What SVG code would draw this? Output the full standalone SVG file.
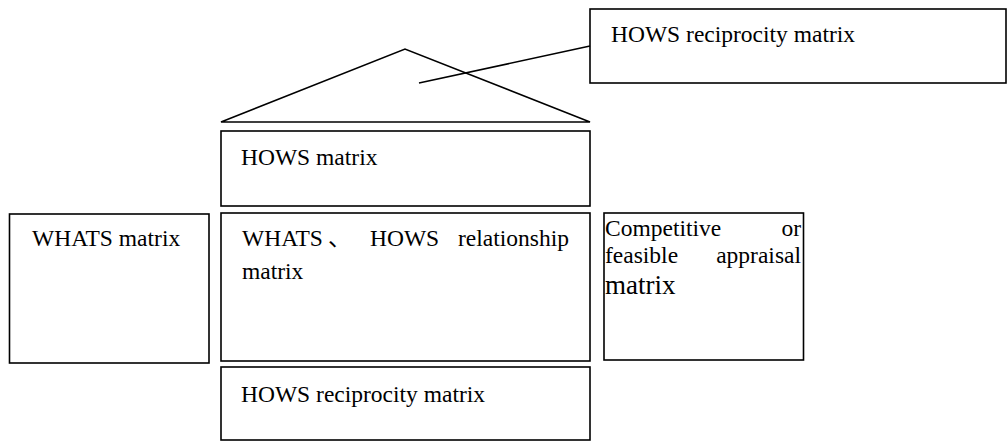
<svg xmlns="http://www.w3.org/2000/svg" width="1008" height="444" viewBox="0 0 1008 444">
<style>
.box{fill:#fff;stroke:#000;stroke-width:1.6}
.ln{fill:none;stroke:#000;stroke-width:1.6}
text{font-family:"Liberation Serif","Noto Sans CJK SC",serif;font-size:23.5px;fill:#000}
.big{font-size:27px}
</style>
<rect width="1008" height="444" fill="#fff"/>
<g id="roof">
<polygon class="ln" points="221,122 405,49 590,122"/>
</g>
<g id="hows-reciprocity-top">
<rect class="box" x="590" y="9" width="416" height="74"/>
<text x="611" y="42">HOWS reciprocity matrix</text>
</g>
<g id="hows-matrix">
<rect class="box" x="221" y="131" width="369" height="75"/>
<text x="241" y="165">HOWS matrix</text>
</g>
<g id="whats-matrix">
<rect class="box" x="9.5" y="214" width="199.5" height="149"/>
<text x="32" y="246">WHATS matrix</text>
</g>
<g id="relationship-matrix">
<rect class="box" x="221" y="213" width="369" height="148"/>
<text x="242" y="246">WHATS</text>
<text x="328" y="246">、</text>
<text x="370" y="246">HOWS</text>
<text x="569" y="246" text-anchor="end">relationship</text>
<text x="242" y="279">matrix</text>
</g>
<g id="competitive-matrix">
<rect class="box" x="604" y="213" width="199.5" height="147"/>
<text x="605" y="236">Competitive</text>
<text x="801" y="236" text-anchor="end">or</text>
<text x="605" y="263">feasible</text>
<text x="801" y="263" text-anchor="end">appraisal</text>
<text class="big" x="605" y="294">matrix</text>
</g>
<g id="hows-reciprocity-bottom">
<rect class="box" x="221" y="367" width="369" height="73"/>
<text x="241" y="402">HOWS reciprocity matrix</text>
</g>
<g id="connectors">
<line class="ln" x1="419" y1="83" x2="590" y2="46"/>
</g>
</svg>
